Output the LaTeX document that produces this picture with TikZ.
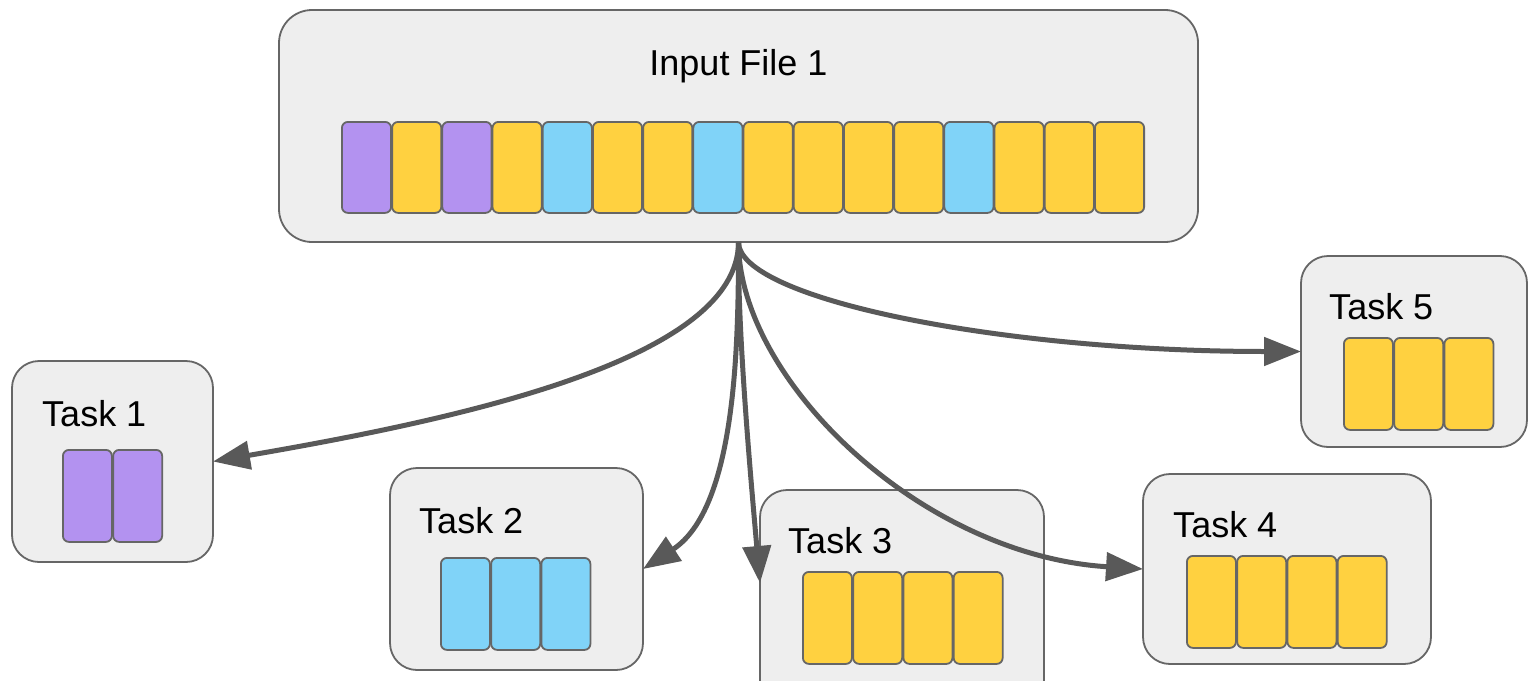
\documentclass[tikz,border=0pt]{standalone}
\usepackage{fontspec}
\setmainfont{Liberation Sans}
\usetikzlibrary{arrows.meta,calc}
\definecolor{boxfill}{HTML}{EEEEEE}
\definecolor{boxline}{HTML}{666666}
\definecolor{arrowgray}{HTML}{595959}
\definecolor{cpurple}{HTML}{B392F0}
\definecolor{cyellow}{HTML}{FFD140}
\definecolor{cblue}{HTML}{80D3F8}
\begin{document}
\begin{tikzpicture}[x=1pt,y=-1pt,
  panel/.style n args={2}{draw=boxline, line width=1.8pt, fill=boxfill,
    rounded corners=27pt, anchor=north west, inner sep=0pt, outer sep=0pt,
    minimum width=#1, minimum height=#2},
  chunk/.style={draw=boxline, line width=1.8pt, fill=#1, rounded corners=6pt,
    anchor=north west, inner sep=0pt, minimum width=49pt, minimum height=92pt},
  title/.style={font=\fontsize{36}{40}\selectfont, inner sep=0pt},
  flow/.style={draw=arrowgray, line width=5pt, -{Triangle[length=37pt,width=28pt]}}
]
\useasboundingbox (0,0) rectangle (1528,680);

% input file with its sixteen records
\node[panel={919pt}{232pt}, rounded corners=33pt] (in) at (279,10) {};
\node[title, anchor=base] (inlabel) at (738.5,75) {Input File 1};
\foreach \c [count=\i from 0] in {cpurple,cyellow,cpurple,cyellow,cblue,cyellow,cyellow,cblue,
    cyellow,cyellow,cyellow,cyellow,cblue,cyellow,cyellow,cyellow}
  \node[chunk=\c, minimum width=49.2pt, minimum height=91pt] (f\i) at ({341+50.2*\i},121) {};

% tasks
\node[panel={201pt}{201pt}] (t1) at (12,361) {};
\node[title, anchor=base west] (t1label) at (42,426) {Task 1};
\foreach \i in {0,1}
  \node[chunk=cpurple] (t1b\i) at ({62+50.25*\i},449) {};

\node[panel={253pt}{202pt}] (t2) at (390,468) {};
\node[title, anchor=base west] (t2label) at (419,533) {Task 2};
\foreach \i in {0,1,2}
  \node[chunk=cblue] (t2b\i) at ({440+50.25*\i},557) {};

\node[panel={284pt}{230pt}] (t3) at (760,490) {};
\node[title, anchor=base west] (t3label) at (788,553) {Task 3};
\foreach \i in {0,1,2,3}
  \node[chunk=cyellow] (t3b\i) at ({802+50.25*\i},571) {};

\node[panel={288pt}{190pt}] (t4) at (1143,474) {};
\node[title, anchor=base west] (t4label) at (1173,537) {Task 4};
\foreach \i in {0,1,2,3}
  \node[chunk=cyellow] (t4b\i) at ({1186+50.25*\i},555) {};

\node[panel={226pt}{191pt}] (t5) at (1301,256) {};
\node[title, anchor=base west] (t5label) at (1329,319) {Task 5};
\foreach \i in {0,1,2}
  \node[chunk=cyellow] (t5b\i) at ({1343+50.25*\i},337) {};

% distribution of the records to the tasks
\coordinate (t3in) at ([yshift=-93pt]t3.north west);
\draw[flow] (in.south) .. controls +(0,117) and +(250,-43) .. (t1.east);
\draw[flow] (in.south) .. controls +(0,104) and +(93,-61) .. (t2.east);
\draw[flow] (in.south) .. controls +(-1,87) and +(-10,-113) .. (t3in);
\draw[flow] (in.south) .. controls +(0,137) and +(-223,-14) .. (t4.west);
\draw[flow] (in.south) .. controls +(0,57) and +(-300,0) .. (t5.west);
\end{tikzpicture}
\end{document}
